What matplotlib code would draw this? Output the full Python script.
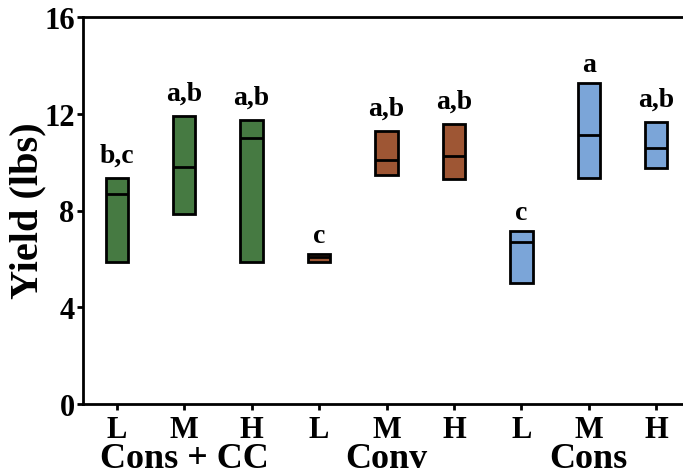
import matplotlib.pyplot as plt
import numpy as np

# yield ranges per treatment (min, median, max)
levels = ['L', 'M', 'H', 'L', 'M', 'H', 'L', 'M', 'H']
groups = ['Cons + CC', 'Conv', 'Cons']
y_min = [5.87, 7.85, 5.87, 5.87, 9.47, 9.30, 5.00, 9.34, 9.75]
y_med = [8.68, 9.80, 11.00, 6.08, 10.09, 10.25, 6.70, 11.12, 10.60]
y_max = [9.34, 11.90, 11.74, 6.20, 11.28, 11.57, 7.15, 13.27, 11.65]
letters = ['b,c', 'a,b', 'a,b', 'c', 'a,b', 'a,b', 'c', 'a', 'a,b']
group_colors = ['#467a42', '#9e5634', '#7ba5d8']

plt.rcParams['font.family'] = ['Liberation Serif', 'DejaVu Serif']
plt.rcParams['font.weight'] = 'bold'

fig = plt.figure(figsize=(6.83, 4.77), dpi=100)
ax = fig.add_axes([83 / 683, 1 - 405 / 477, 607 / 683, 387 / 477])

x = np.arange(len(levels))
colors = [group_colors[i // 3] for i in range(len(levels))]
heights = np.array(y_max) - np.array(y_min)
ax.bar(x, heights, bottom=y_min, width=0.33, color=colors,
       edgecolor='black', linewidth=2, zorder=2)
ax.hlines(y_med, x - 0.165, x + 0.165, color='black', linewidth=2, zorder=3)

# significance letters above each bar
for xi, top, lab in zip(x, y_max, letters):
    off = 12 if ',' in lab else 9
    ax.annotate(lab, (xi, top), xytext=(0, off), textcoords='offset points',
                ha='center', va='baseline', fontsize=20, fontweight='bold')

ax.set_xlim(-0.5, 8.5)
ax.set_ylim(0, 16)
ax.set_yticks([0, 4, 8, 12, 16])
ax.set_xticks(x)
ax.set_xticklabels(levels)
ax.tick_params(axis='both', labelsize=22, width=2, length=4, direction='out')
ax.tick_params(axis='x', pad=4)
ax.tick_params(axis='y', pad=2)
for lab in ax.get_xticklabels() + ax.get_yticklabels():
    lab.set_fontweight('bold')
for s in ['left', 'bottom', 'top']:
    ax.spines[s].set_linewidth(2)
ax.spines['right'].set_visible(False)

fig.text(28 / 683, 1 - 211 / 477, 'Yield (lbs)', rotation=90, ha='center',
         va='center', fontsize=29, fontweight='bold')

# group names under the middle tick of each group
for i, g in enumerate(groups):
    ax.text(3 * i + 1, -63 / 387, g, transform=ax.get_xaxis_transform(),
            ha='center', va='baseline', fontsize=26, fontweight='bold')

fig.savefig('out.png', dpi=100)
